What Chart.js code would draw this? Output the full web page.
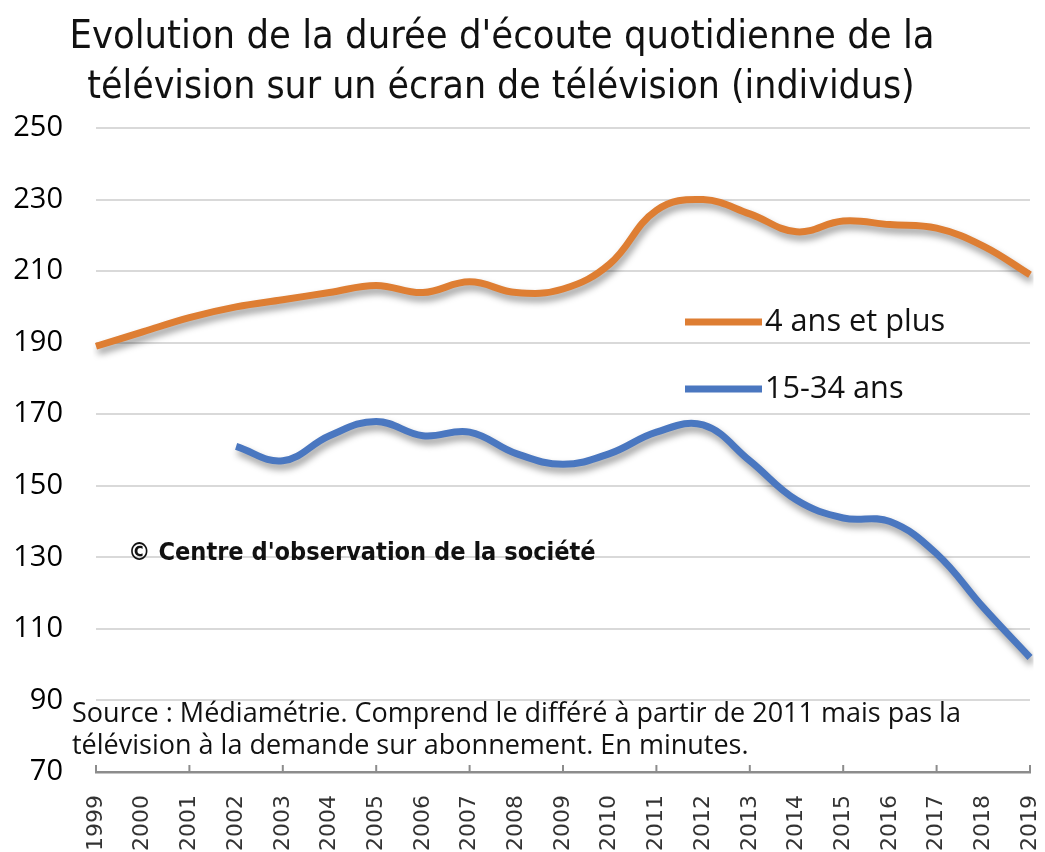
<!DOCTYPE html>
<html>
<head>
<meta charset="utf-8">
<script src="https://cdn.jsdelivr.net/npm/chart.js@4"></script>
<style>
  html, body { margin: 0; padding: 0; background: #fff; }
  #wrap { width: 1045px; height: 852px; }
</style>
</head>
<body>
<div id="wrap"><canvas id="tvChart" width="1045" height="852"></canvas></div>
<script>
// Durée d'écoute quotidienne (minutes), Médiamétrie
const years   = ['1999','2000','2001','2002','2003','2004','2005','2006','2007','2008','2009',
                 '2010','2011','2012','2013','2014','2015','2016','2017','2018','2019'];
const ind4plus = [189, 193, 197, 200, 202, 204, 206, 204, 207, 204, 205,
                  212, 227, 230, 226, 221, 224, 223, 222, 217, 209];
const ind1534  = [null, null, null, 161, 157, 164, 168, 164, 165, 159, 156,
                  159, 165, 167, 157, 146, 141, 140, 131, 116, 102];
const seriesNames = ['4 ans et plus', '15-34 ans'];
const yTicks = { min: 70, max: 250, step: 20 };

const titleLines = [
  "Evolution de la durée d'écoute quotidienne de la",
  "télévision sur un écran de télévision (individus)"
];
const copyright = "© Centre d'observation de la société";
const sourceLines = [
  "Source : Médiamétrie. Comprend le différé à partir de 2011 mais pas la",
  "télévision à la demande sur abonnement. En minutes."
];

const ORANGE = '#de7e33';
const BLUE   = '#4a77c0';
const NARROW = "'Liberation Sans Narrow', 'DejaVu Sans Condensed', sans-serif";
const BODY   = "'Open Sans', 'DejaVu Sans', sans-serif";

// pick a font size so the text spans the wanted width
function fitFont(ctx, text, width, family, weight) {
  ctx.font = `${weight} 100px ${family}`;
  const size = 100 * width / ctx.measureText(text).width;
  return `${weight} ${size.toFixed(1)}px ${family}`;
}

// Excel-like soft shadow under the lines
const shadowPlugin = {
  id: 'lineShadow',
  beforeDatasetsDraw(chart) {
    const c = chart.ctx;
    c.save();
    c.shadowColor = 'rgba(0,0,0,0.4)';
    c.shadowBlur = 7;
    c.shadowOffsetX = 2;
    c.shadowOffsetY = 5;
  },
  afterDatasetsDraw(chart) {
    chart.ctx.restore();
  }
};

// tick marks every second year, pointing up from the axis
const xTickPlugin = {
  id: 'xTicks',
  afterDraw(chart) {
    const c = chart.ctx;
    const xs = chart.scales.x;
    c.save();
    c.strokeStyle = '#8c8c8c';
    c.lineWidth = 2;
    years.forEach((y, i) => {
      if (i % 2) return;
      const px = xs.getPixelForValue(i);
      c.beginPath();
      c.moveTo(px, xs.top - 7);
      c.lineTo(px, xs.top + 1);
      c.stroke();
    });
    c.restore();
  }
};

// title, legend and notes drawn as text
const textPlugin = {
  id: 'texts',
  afterDraw(chart) {
    const c = chart.ctx;
    c.save();
    c.textBaseline = 'middle';

    // title
    c.fillStyle = '#111';
    c.textAlign = 'center';
    c.font = fitFont(c, titleLines[0], 865, NARROW, 'normal');
    c.fillText(titleLines[0], 502, 38);
    c.font = fitFont(c, titleLines[1], 827, NARROW, 'normal');
    c.fillText(titleLines[1], 501, 88);

    // legend
    c.textAlign = 'left';
    const legendFont = fitFont(c, seriesNames[0], 180, BODY, 'normal');
    chart.data.datasets.forEach((ds, i) => {
      const y = 322 + i * 67;
      c.strokeStyle = ds.borderColor;
      c.lineWidth = 7;
      c.beginPath();
      c.moveTo(685, y);
      c.lineTo(762, y);
      c.stroke();
      c.fillStyle = '#111';
      c.font = legendFont;
      c.fillText(ds.label, 765, y);
    });

    // copyright
    c.fillStyle = '#111';
    c.font = fitFont(c, copyright, 468, NARROW, 'bold');
    c.fillText(copyright, 128, 553);

    // source
    c.font = fitFont(c, sourceLines[0], 888, BODY, 'normal');
    c.fillText(sourceLines[0], 72, 714);
    c.fillText(sourceLines[1], 72, 746);

    c.restore();
  }
};

new Chart(document.getElementById('tvChart'), {
  type: 'line',
  data: {
    labels: years,
    datasets: [
      {
        label: seriesNames[0],
        data: ind4plus,
        borderColor: ORANGE,
        borderWidth: 7,
        pointRadius: 0,
        tension: 0.4,
        fill: false,
      },
      {
        label: seriesNames[1],
        data: ind1534,
        borderColor: BLUE,
        borderWidth: 7,
        pointRadius: 0,
        tension: 0.4,
        fill: false,
      },
    ],
  },
  options: {
    responsive: false,
    animation: false,
    layout: { padding: { top: 128, right: 15, left: 0, bottom: 0 } },
    plugins: {
      legend:  { display: false },
      tooltip: { enabled: false },
      title:   { display: false },
    },
    scales: {
      x: {
        grid:   { display: false },
        border: { display: true, color: '#8c8c8c', width: 2.5 },
        ticks: {
          autoSkip:    false,
          minRotation: 90,
          maxRotation: 90,
          padding:     15,
          color:       '#333',
          font:        { family: "'DejaVu Sans', sans-serif", size: 22 },
        },
        afterFit: scale => {
          scale.height = 80;
          // rotated labels must not push the plot inwards
          scale.paddingLeft = 0;
          scale.paddingRight = 0;
        },
      },
      y: {
        min: yTicks.min,
        max: yTicks.max,
        border: { display: false },
        grid: {
          drawTicks: false,
          lineWidth: 2,
          color: ctx => ctx.tick && ctx.tick.value === yTicks.min ? 'rgba(0,0,0,0)' : '#d9d9d9',
        },
        ticks: {
          stepSize: yTicks.step,
          padding:  33,
          color:    '#000',
          font:     { family: "'Open Sans', sans-serif", size: 29 },
        },
        afterFit: scale => { scale.width = 96; },
      },
    },
  },
  plugins: [shadowPlugin, xTickPlugin, textPlugin],
});
</script>
</body>
</html>
